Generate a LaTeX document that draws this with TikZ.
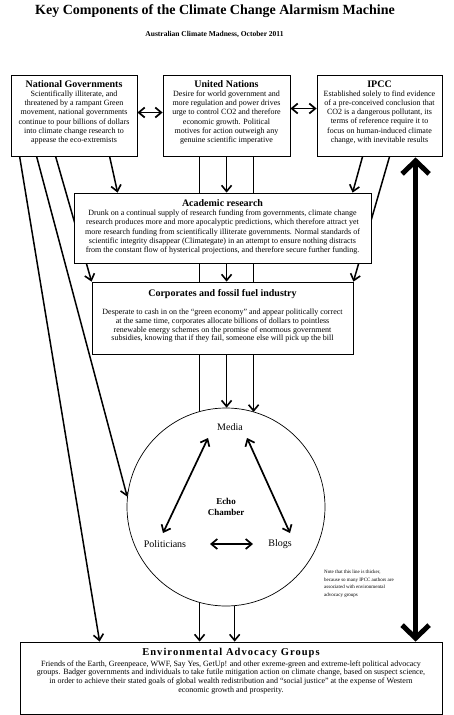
\documentclass[tikz,border=0pt]{standalone}
\usepackage{fontspec}
\setmainfont{Liberation Serif}
\usetikzlibrary{arrows.meta,calc,shadows}
\pgfdeclarelayer{bg}
\pgfsetlayers{bg,main}
\newcommand\bxt[4]{\begin{minipage}[c][#2][t]{#1}\centering\vspace*{#3}#4\end{minipage}}
\newcommand\hdfont{\fontsize{10}{11}\selectfont\bfseries}
\newcommand\bdfont[1]{\fontsize{8}{#1}\selectfont}
\begin{document}
\begin{tikzpicture}[x=1pt,y=-1pt,
  box/.style={draw=black,line width=0.8pt,fill=white,inner sep=0pt,
    drop shadow={shadow xshift=1pt,shadow yshift=-1pt,opacity=0.3}},
  link/.style={line width=1.5pt,-{Straight Barb[length=6pt,width=10pt,line width=1.6pt]}},
  both/.style={line width=1.7pt,{Straight Barb[length=6pt,width=10pt,line width=1.7pt]}-{Straight Barb[length=6pt,width=10pt,line width=1.7pt]}},
  heavy/.style={line width=5pt,{Straight Barb[length=13pt,width=27pt,line width=5pt]}-{Straight Barb[length=13pt,width=27pt,line width=5pt]}},
  lbl/.style={font=\fontsize{10}{12}\selectfont,inner sep=1pt},
]
\useasboundingbox (0,0) rectangle (454,715);

\node[font=\fontsize{14}{16}\selectfont\bfseries] (title) at (215,11) {Key Components of the Climate Change Alarmism Machine};
\node[font=\fontsize{7.5}{9}\selectfont\bfseries] (subtitle) at (214.5,34.5) {Australian Climate Madness, October 2011};

\node[box] (ng) at (74,115.5) {\bxt{126pt}{81pt}{5.4pt}{{\hdfont National Governments\par}\bdfont{9.2}Scientifically illiterate, and\\threatened by a rampant Green\\movement, national governments\\continue to pour billions of dollars\\into climate change research to\\appease the eco-extremists\par}};
\node[box] (un) at (226.5,115.5) {\bxt{127pt}{81pt}{5.4pt}{{\hdfont United Nations\par}\bdfont{9.2}Desire for world government and\\more regulation and power drives\\urge to control CO2 and therefore\\economic growth. Political\\motives for action outweigh any\\genuine scientific imperative\par}};
\node[box] (ipcc) at (379.5,115.5) {\bxt{125pt}{81pt}{5.4pt}{{\hdfont IPCC\par}\bdfont{9.2}Established solely to find evidence\\of a pre-conceived conclusion that\\CO2 is a dangerous pollutant, its\\terms of reference require it to\\focus on human-induced climate\\change, with inevitable results\par}};
\node[box] (ar) at (222.5,228) {\bxt{297pt}{70pt}{6.4pt}{{\hdfont Academic research\par}\bdfont{9.25}Drunk on a continual supply of research funding from governments, climate change\\research produces more and more apocalyptic predictions, which therefore attract yet\\more research funding from scientifically illiterate governments. Normal standards of\\scientific integrity disappear (Climategate) in an attempt to ensure nothing distracts\\from the constant flow of hysterical projections, and therefore secure further funding.\par}};
\node[box] (corp) at (222.5,318) {\bxt{261pt}{72pt}{7.4pt}{{\hdfont Corporates and fossil fuel industry\par}\vspace{9.6pt}\bdfont{8.7}Desperate to cash in on the “green economy” and appear politically correct\\at the same time, corporates allocate billions of dollars to pointless\\renewable energy schemes on the promise of enormous government\\subsidies, knowing that if they fail, someone else will pick up the bill\par}};
\node[box] (eag) at (231,678) {\bxt{422pt}{72pt}{6.3pt}{{\fontsize{10.5}{11}\selectfont\bfseries\addfontfeature{LetterSpace=10}Environmental Advocacy Groups\par}\vspace{2pt}\bdfont{8.7}Friends of the Earth, Greenpeace, WWF, Say Yes, GetUp! and other exreme-green and extreme-left political advocacy\\groups. Badger governments and individuals to take futile mitigation action on climate change, based on suspect science,\\in order to achieve their stated goals of global wealth redistribution and “social justice” at the expense of Western\\economic growth and prosperity.\par}};

\node[circle,draw=black,line width=0.7pt,fill=white,minimum size=198pt,inner sep=0pt,align=center,font=\fontsize{9}{11.5}\selectfont\bfseries] (echo) at (226,507) {Echo\\Chamber};
\node[lbl] (media) at (230,427) {Media};
\node[lbl] (pol) at (165,544) {Politicians};
\node[lbl] (blogs) at (280,544) {Blogs};

\node[anchor=north west,align=left,inner sep=0pt,font=\fontsize{5}{7.5}\selectfont] (note) at (324,570) {Note that this line is thicker,\\because so many IPCC authors are\\associated with environmental\\advocacy groups};

\coordinate (u1) at ([xshift=37pt]un.south west);
\coordinate (u2) at ([xshift=64pt]un.south west);
\coordinate (u3) at ([xshift=91pt]un.south west);
\coordinate (c1) at (echo.275);
\coordinate (t1) at ([xshift=99pt]ipcc.south west);

\begin{pgfonlayer}{bg}
\fill[white] (0,0) rectangle (454,715);
\draw[link] ([xshift=9pt]ng.south west) -- ([xshift=80pt]eag.north west);
\draw[link] ([xshift=26pt]ng.south west) -- (echo.174);
\draw[link] ([xshift=45pt]ng.south west) -- (corp.north west);
\draw[link] ([xshift=99pt]ng.south west) -- ([xshift=44pt]ar.north west);
\draw[link] (u1) -- (u1 |- eag.north);
\draw[link] (u2) -- (u2 |- ar.north);
\draw[link] (u3) -- (u3 |- echo.73.6);
\draw[link] (u2 |- ar.south) -- (u2 |- corp.north);
\draw[link] (u2 |- corp.south) -- (u2 |- echo.north);
\draw[link] (c1) -- (c1 |- eag.north);
\draw[link] ([xshift=46pt]ipcc.south west) -- ([xshift=279pt]ar.north west);
\draw[link] ([xshift=73pt]ipcc.south west) -- (corp.north east);
\end{pgfonlayer}

\draw[both] ([yshift=3pt]ng.east) -- ([yshift=3pt]un.west);
\draw[both] ([yshift=7pt]un.east) -- ([yshift=7pt]ipcc.west);
\draw[heavy] ([yshift=-1pt]t1) -- (t1 |- eag.north);

\draw[both] ([shift={(-22,11)}]media.center) -- ([shift={(-2,-11)}]pol.center);
\draw[both] ([shift={(17,11)}]media.center) -- ([shift={(10,-11)}]blogs.center);
\draw[both] ([shift={(45,0)}]pol.center) -- ([shift={(-27,0)}]blogs.center);
\end{tikzpicture}
\end{document}
